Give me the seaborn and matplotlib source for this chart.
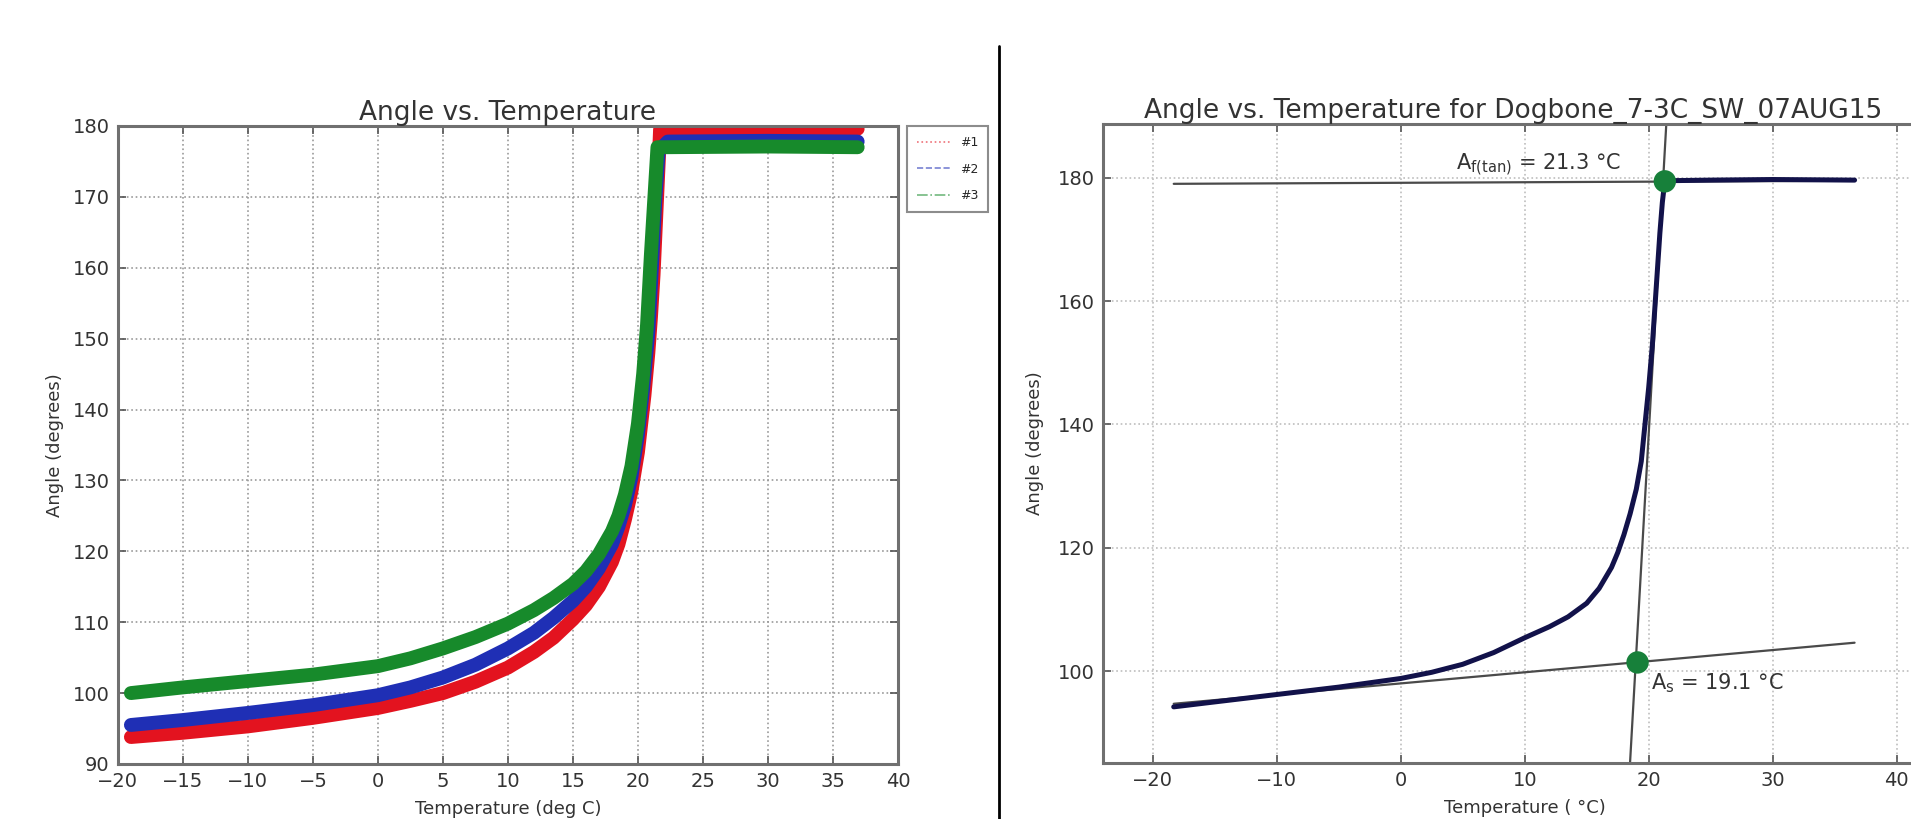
import matplotlib
matplotlib.use("Agg")
import matplotlib.pyplot as plt
from matplotlib.lines import Line2D
import numpy as np
import pandas as pd
import seaborn as sns

sns.set_theme(style="whitegrid")
plt.rcParams["font.family"] = ["DejaVu Sans"]
plt.rcParams["mathtext.default"] = "regular"

# ---- left panel: three samples ----
temp_1 = [-19, -15, -10, -5, 0, 2.5, 5, 7.5, 10, 12, 13.5, 15, 16, 17, 18, 18.5, 19, 19.5, 20,
          20.5, 20.8, 21.0, 21.2, 21.4, 21.6, 21.7, 25, 30, 36.9]
angle_1 = [93.8, 94.4, 95.3, 96.5, 97.9, 98.9, 100.0, 101.6, 103.6, 105.8, 107.8, 110.4, 112.4, 115.0,
           118.5, 121, 124.5, 128.5, 134, 142, 148, 153, 159, 167, 175, 179.5, 179.6, 179.5, 179.6]

temp_2 = [-19, -15, -10, -5, 0, 2.5, 5, 7.5, 10, 12, 13.5, 15, 16, 17, 18, 18.5, 19, 19.5, 20,
          20.4, 20.8, 21.1, 21.35, 21.6, 22.3, 30, 36.9]
angle_2 = [95.5, 96.2, 97.2, 98.3, 99.7, 100.8, 102.2, 104.0, 106.3, 108.5, 110.6, 113.0, 115.0, 117.6,
           121, 123.5, 126.5, 130.5, 136.5, 143, 151, 161, 170, 176.5, 177.8, 177.9, 177.8]

temp_3 = [-19, -15, -10, -5, 0, 2.5, 5, 7.5, 10, 12, 13.5, 15, 16, 17, 18, 18.5, 19, 19.5, 20,
          20.4, 20.7, 21.0, 21.3, 21.5, 22, 30, 36.9]
angle_3 = [100.0, 100.8, 101.7, 102.6, 103.8, 104.9, 106.3, 107.9, 109.8, 111.7, 113.4, 115.4, 117.2,
           119.6, 122.8, 125, 128, 132, 138, 145, 152, 162, 171, 177.0, 177.0, 177.1, 177.0]

sample_labels = ["#1", "#2", "#3"]
sample_colors = ["#e3131f", "#1f2fb5", "#178a2b"]

# ---- right panel: single dogbone run ----
temp_dog = [-18.3, -15, -10, -5, 0, 2.5, 5, 7.5, 10, 12, 13.5, 15, 16, 17, 17.5, 18, 18.5, 19.0,
            19.4, 19.7, 20.0, 20.3, 20.6, 20.9, 21.1, 21.3, 25, 30, 36.6]
angle_dog = [94.2, 95.0, 96.2, 97.4, 98.8, 99.8, 101.1, 103.0, 105.4, 107.2, 108.8, 111.0, 113.4, 116.8,
             119.2, 122.1, 125.5, 129.5, 134, 140, 146, 153, 162, 171, 176, 179.5, 179.6, 179.7, 179.6]

# tangent lines (end points) and their intersections
upper_tan_x = [-18.3, 36.6]
upper_tan_y = [179.0, 179.5]
lower_tan_x = [-18.3, 36.6]
lower_tan_y = [94.7, 104.6]
steep_tan_x = [18.35, 21.85]
steep_tan_y = [80.0, 204.0]
point_x = [21.3, 19.1]
point_y = [179.4, 101.4]

text_c = "#333333"
frame_c = "#707070"

fig = plt.figure(figsize=(19.11, 8.19), dpi=100)

# ---------------- left ----------------
ax1 = fig.add_axes([0.0617, 0.0672, 0.4082, 0.779])
df = pd.DataFrame({
    "Temperature": temp_1 + temp_2 + temp_3,
    "Angle": angle_1 + angle_2 + angle_3,
    "Sample": [sample_labels[0]] * len(temp_1) + [sample_labels[1]] * len(temp_2)
              + [sample_labels[2]] * len(temp_3),
})
sns.lineplot(data=df, x="Temperature", y="Angle", hue="Sample", palette=sample_colors,
             sort=False, estimator=None, linewidth=10, legend=False, ax=ax1)
ax1.set_xlim(-20, 40)
ax1.set_ylim(90, 180)
ax1.set_xticks(np.arange(-20, 41, 5))
ax1.set_yticks(np.arange(90, 181, 10))
ax1.set_title("Angle vs. Temperature", fontsize=19, color=text_c, pad=4)
ax1.set_xlabel("Temperature (deg C)", fontsize=13, color=text_c, labelpad=6)
ax1.set_ylabel("Angle (degrees)", fontsize=13, color=text_c, labelpad=6)
ax1.grid(True, linestyle=":", color="#9a9a9a", linewidth=1.2)

handles = [Line2D([], [], color=c, linestyle=ls, linewidth=1.2, alpha=0.6)
           for c, ls in zip(sample_colors, [":", "--", "-."])]
leg = ax1.legend(handles, sample_labels, loc="upper left", bbox_to_anchor=(1.012, 1.0),
                 fontsize=9, frameon=True, fancybox=False, handlelength=2.6,
                 borderpad=0.8, labelspacing=1.1, borderaxespad=0)
leg.get_frame().set_edgecolor(frame_c)
leg.get_frame().set_linewidth(1.5)

# ---------------- right ----------------
ax2 = fig.add_axes([0.5772, 0.0684, 0.4413, 0.7802])
ax2.plot(upper_tan_x, upper_tan_y, color="#4a4a4a", linewidth=1.6, zorder=2)
ax2.plot(lower_tan_x, lower_tan_y, color="#4a4a4a", linewidth=1.6, zorder=2)
ax2.plot(steep_tan_x, steep_tan_y, color="#4a4a4a", linewidth=1.6, zorder=2)
sns.lineplot(x=temp_dog, y=angle_dog, sort=False, estimator=None, color="#12124a",
             linewidth=3.6, ax=ax2, zorder=3)
sns.scatterplot(x=point_x, y=point_y, color="#17803a", s=260, edgecolor="none", ax=ax2, zorder=5)
ax2.text(4.5, 181.3, "A$_{f(tan)}$ = 21.3 °C", fontsize=15, color=text_c, va="baseline")
ax2.text(20.2, 97.0, "A$_{s}$ = 19.1 °C", fontsize=15, color=text_c, va="baseline")
ax2.set_xlim(-24, 44)
ax2.set_ylim(85.1, 188.7)
ax2.set_xticks(np.arange(-20, 41, 10))
ax2.set_yticks(np.arange(100, 181, 20))
ax2.set_title("Angle vs. Temperature for Dogbone_7-3C_SW_07AUG15", fontsize=19,
              color=text_c, pad=4, x=(1513 - 1103) / 843)
ax2.set_xlabel("Temperature ( °C)", fontsize=13, color=text_c, labelpad=6)
ax2.set_ylabel("Angle (degrees)", fontsize=13, color=text_c, labelpad=10)
ax2.grid(True, linestyle=":", color="#bdbdbd", linewidth=1.2)

for ax in (ax1, ax2):
    ax.tick_params(direction="in", length=6, width=1.2, color="#555555",
                   top=True, right=True, bottom=True, left=True,
                   labelsize=14, labelcolor=text_c, pad=6)
    for s in ax.spines.values():
        s.set_color(frame_c)
        s.set_linewidth(2.2)
    ax.set_facecolor("white")

# divider between the two panels
fig.add_artist(Line2D([0.5228, 0.5228], [0.0, 0.944], color="black", linewidth=2,
                      transform=fig.transFigure))

fig.savefig("out.png", dpi=100, facecolor="white")
